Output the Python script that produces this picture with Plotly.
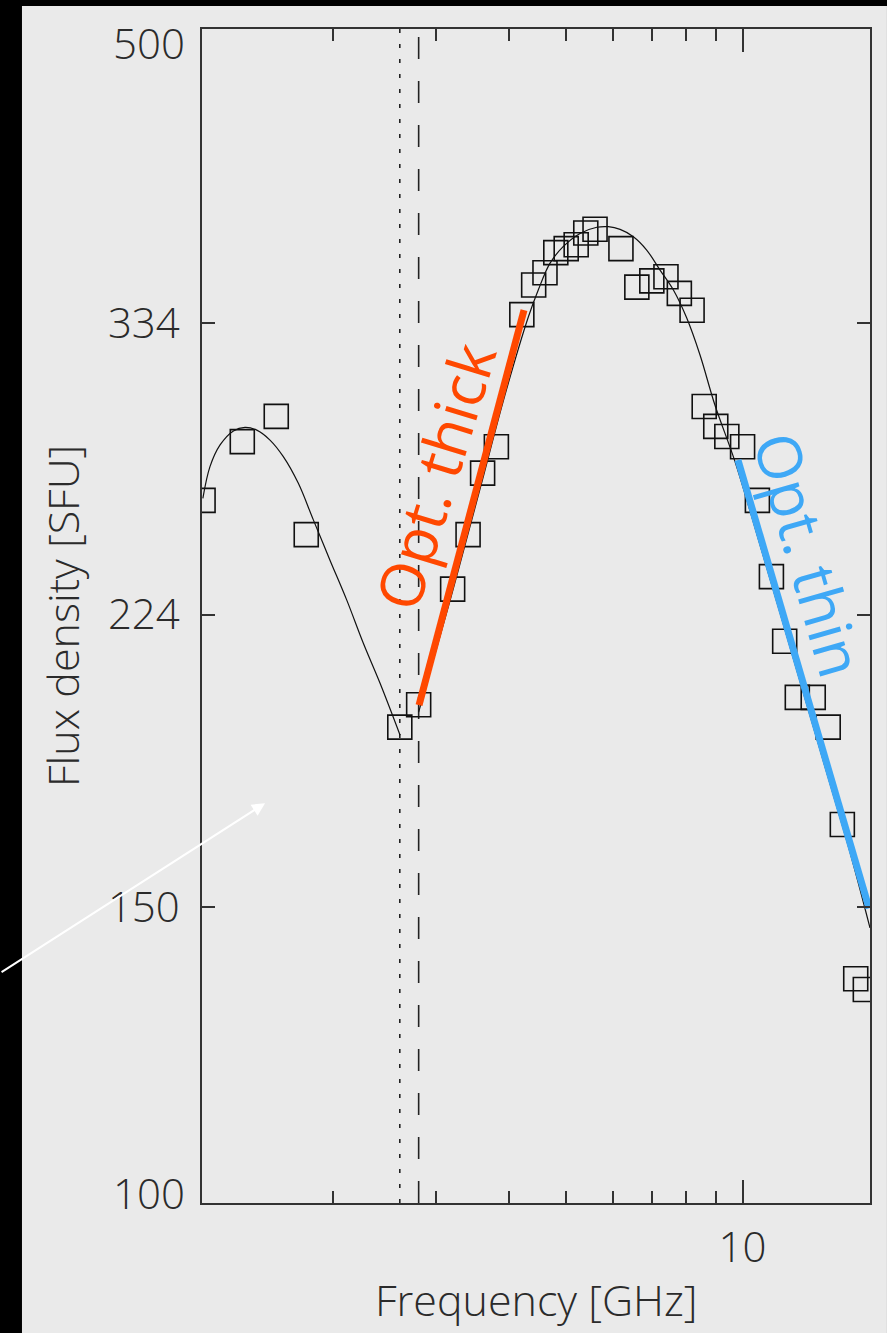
import numpy as np
import plotly.graph_objects as go

# ---- data ----
freq_obs = [1.20, 1.40, 1.60, 1.80, 2.60, 2.80, 3.20, 3.40, 3.60, 3.80,
            4.20, 4.40, 4.60, 4.80, 5.00, 5.20, 5.40, 5.60, 6.20, 6.60,
            7.00, 7.40, 7.80, 8.20, 8.60, 9.00, 9.40, 10.0, 10.6, 11.2,
            11.8, 12.4, 13.2, 14.0, 14.8, 15.6, 16.2]
flux_obs = [262, 284, 294, 250, 192, 198, 232, 250, 272, 282,
            338, 352, 358, 368, 370, 372, 378, 380, 370, 351,
            354, 356, 348, 340, 298, 290, 286, 282, 262, 236,
            216, 200, 200, 192, 168, 136, 134]

fit1_f = [1.199, 1.233, 1.283, 1.352, 1.415, 1.482, 1.561, 1.645, 1.745,
          1.851, 1.976, 2.110, 2.253, 2.406, 2.603]
fit1_s = [262.7, 274.4, 282.7, 288.2, 289.6, 288.5, 284.6, 278.2, 268.2,
          255.1, 241.4, 228.6, 215.4, 203.9, 189.9]

fit2_f = [2.80, 3.17, 3.56, 3.93, 4.31, 4.48, 4.69, 4.94, 5.28, 5.64, 5.90,
          6.18, 6.51, 6.86, 7.23, 7.62, 8.03, 8.46, 8.97, 9.71, 10.71,
          12.05, 13.56, 15.25, 16.5]
fit2_s = [196.0, 228.6, 265.8, 302.7, 337.0, 349.6, 362.6, 371.0, 377.8,
          381.0, 381.3, 379.9, 376.1, 369.3, 359.3, 349.6, 336.4, 319.8,
          298.6, 276.2, 246.5, 214.3, 186.1, 161.8, 145.8]

thick_f = [2.804, 4.236]
thick_s = [197.9, 340.1]
thin_f = [9.82, 16.44]
thin_s = [276.9, 149.8]

dotted_f = 2.6
dashed_f = 2.8

y_ticks = [100, 150, 224, 334, 500]
x_major = [10]
x_minor = [2, 3, 4, 5, 6, 7, 8, 9]
x_range = [1.195, 16.5]
y_range = [100, 500]

thick_label = ("Opt. thick", 2.975, 270.9)
thin_label = ("Opt. thin", 13.03, 243.4)
arrow_tip = (1.531, 173.0)

FONT = "Open Sans"
TXT = "#2b2b2b"
ORANGE = "#ff4800"
BLUE = "#3ea8f6"
BG = "#eaeaea"

fig = go.Figure()

# vertical reference lines
fig.add_trace(go.Scatter(x=[dotted_f, dotted_f], y=y_range, mode="lines",
                         line=dict(color="#222", width=1.6, dash="4px,11px"),
                         showlegend=False, hoverinfo="skip"))
fig.add_trace(go.Scatter(x=[dashed_f, dashed_f], y=y_range, mode="lines",
                         line=dict(color="#222", width=1.6, dash="22px,22px"),
                         showlegend=False, hoverinfo="skip"))

# fit curves
fig.add_trace(go.Scatter(x=fit1_f, y=fit1_s, mode="lines",
                         line=dict(color="#111", width=1.2, shape="spline", smoothing=1.0),
                         showlegend=False))
fig.add_trace(go.Scatter(x=fit2_f, y=fit2_s, mode="lines",
                         line=dict(color="#111", width=1.2, shape="spline", smoothing=1.0),
                         showlegend=False))

# observations
fig.add_trace(go.Scatter(x=freq_obs, y=flux_obs, mode="markers",
                         marker=dict(symbol="square-open", size=24, color="#111",
                                     line=dict(width=1.6, color="#111")),
                         showlegend=False))

# slope lines
fig.add_trace(go.Scatter(x=thick_f, y=thick_s, mode="lines",
                         line=dict(color=ORANGE, width=7), showlegend=False))
fig.add_trace(go.Scatter(x=thin_f, y=thin_s, mode="lines",
                         line=dict(color=BLUE, width=7), showlegend=False))

ann = []
ann.append(dict(x=np.log10(thick_label[1]), y=np.log10(thick_label[2]), xref="x", yref="y",
                text=thick_label[0], showarrow=False, textangle=-73,
                font=dict(family=FONT, size=61, color=ORANGE, weight=400)))
ann.append(dict(x=np.log10(thin_label[1]), y=np.log10(thin_label[2]), xref="x", yref="y",
                text=thin_label[0], showarrow=False, textangle=74,
                font=dict(family=FONT, size=61, color=BLUE, weight=400)))
# white arrow
ann.append(dict(x=np.log10(arrow_tip[0]), y=np.log10(arrow_tip[1]), xref="x", yref="y",
                text="", showarrow=True, ax=-265, ay=170, arrowhead=2, arrowsize=1.3,
                arrowwidth=2, arrowcolor="white"))
# axis titles
ann.append(dict(x=0.5, y=-0.0826, xref="paper", yref="paper", text="Frequency [GHz]",
                showarrow=False, xanchor="center", yanchor="middle",
                font=dict(family=FONT, size=43, color=TXT, weight=300)))
ann.append(dict(x=-0.2096, y=0.5, xref="paper", yref="paper", text="Flux density [SFU]",
                showarrow=False, textangle=-90, xanchor="center", yanchor="middle",
                font=dict(family=FONT, size=43, color=TXT, weight=300)))
# end tick labels placed inside the range, as in the reference
for v, shift in ((y_ticks[-1], -13), (y_ticks[0], 11)):
    ann.append(dict(x=-0.0225, y=np.log10(v), xref="paper", yref="y", text=str(v),
                    showarrow=False, xanchor="right", yanchor="middle", yshift=shift,
                    font=dict(family=FONT, size=42, color=TXT, weight=300)))

fig.update_layout(
    width=887, height=1333,
    margin=dict(l=202, r=17, t=29, b=130),
    paper_bgcolor="black",
    plot_bgcolor="rgba(0,0,0,0)",
    showlegend=False,
    annotations=ann,
    shapes=[dict(type="rect", xref="paper", yref="paper",
                 x0=-0.2695, x1=1.0254, y0=-0.1107, y1=1.0196,
                 fillcolor=BG, line=dict(width=0), layer="below")],
    xaxis=dict(type="log", range=[np.log10(x_range[0]), np.log10(x_range[1])],
               showgrid=False, zeroline=False, showline=True, linecolor="#333",
               linewidth=1.6, mirror="ticks", ticks="inside", ticklen=23, tickwidth=1.6,
               tickcolor="#333", tickvals=x_major, ticktext=[str(v) for v in x_major],
               ticklabelstandoff=7,
               minor=dict(tickvals=x_minor, ticks="inside", ticklen=12, tickwidth=1.6,
                          tickcolor="#333", showgrid=False),
               tickfont=dict(family=FONT, size=42, color=TXT, weight=300)),
    yaxis=dict(type="log", range=[np.log10(y_range[0]), np.log10(y_range[1])],
               showgrid=False, zeroline=False, showline=True, linecolor="#333",
               linewidth=1.6, mirror="ticks", ticks="inside", ticklen=13, tickwidth=1.6,
               tickcolor="#333", tickvals=y_ticks,
               ticktext=["" if v in (y_ticks[0], y_ticks[-1]) else str(v) for v in y_ticks],
               ticklabelstandoff=12,
               tickfont=dict(family=FONT, size=42, color=TXT, weight=300)),
)

fig.write_html("out.html",
               config={"displayModeBar": False},
               post_script="document.body.style.margin='0px';"
                           "document.body.style.background='black';")
